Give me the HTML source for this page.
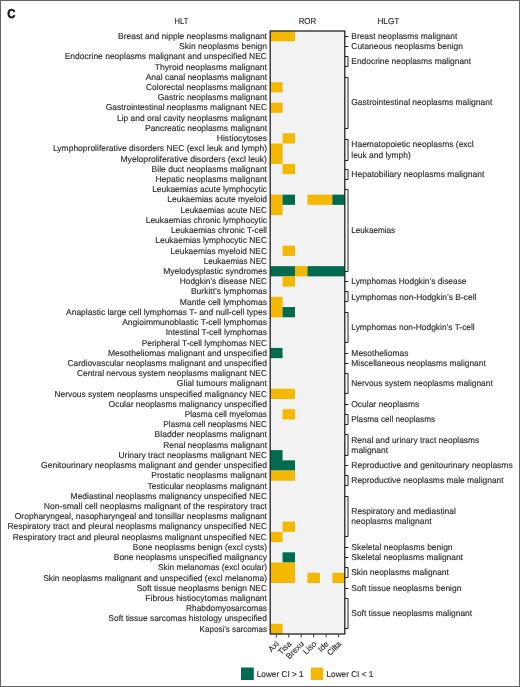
<!DOCTYPE html><html><head><meta charset="utf-8"><style>
html,body{margin:0;padding:0;background:#fff;}
body{width:520px;height:687px;overflow:hidden;position:relative;}
svg{position:absolute;left:0;top:0;will-change:transform;}
text{font-family:"Liberation Sans",sans-serif;text-rendering:geometricPrecision;stroke:#2a2a2a;stroke-width:0.14px;}
</style></head><body>
<svg width="520" height="687" viewBox="0 0 520 687">
<rect x="0" y="0" width="520" height="687" fill="#fff"/>
<rect x="0.5" y="0.5" width="519" height="686" fill="none" stroke="#626262" stroke-width="1"/>
<text transform="translate(7.2,17.6) scale(0.9,1.02)" font-size="12.6" font-weight="bold" style="stroke:#111;stroke-width:0.45px" fill="#111">C</text>
<text x="181.45" y="24.4" font-size="8.5" fill="#2a2a2a" text-anchor="middle" textLength="13.73" lengthAdjust="spacingAndGlyphs">HLT</text>
<text x="307.45" y="24.4" font-size="8.5" fill="#2a2a2a" text-anchor="middle" textLength="17.59" lengthAdjust="spacingAndGlyphs">ROR</text>
<text x="388.4" y="24.4" font-size="8.5" fill="#2a2a2a" text-anchor="middle" textLength="21.87" lengthAdjust="spacingAndGlyphs">HLGT</text>
<rect x="270.1" y="31.1" width="74.70" height="602.98" fill="#f2f2f2"/>
<rect x="270.10" y="31.10" width="24.90" height="10.22" fill="#f5b800"/>
<rect x="270.10" y="82.20" width="12.45" height="10.22" fill="#f5b800"/>
<rect x="270.10" y="102.64" width="12.45" height="10.22" fill="#f5b800"/>
<rect x="282.55" y="133.30" width="12.45" height="10.22" fill="#f5b800"/>
<rect x="270.10" y="143.52" width="12.45" height="11.02" fill="#f5b800"/>
<rect x="270.10" y="153.74" width="12.45" height="10.22" fill="#f5b800"/>
<rect x="282.55" y="163.96" width="12.45" height="10.22" fill="#f5b800"/>
<rect x="270.10" y="194.62" width="12.45" height="11.02" fill="#f5b800"/>
<rect x="282.55" y="194.62" width="12.45" height="10.22" fill="#006b4f"/>
<rect x="307.45" y="194.62" width="24.90" height="10.22" fill="#f5b800"/>
<rect x="332.35" y="194.62" width="12.45" height="10.22" fill="#006b4f"/>
<rect x="270.10" y="204.84" width="12.45" height="10.22" fill="#f5b800"/>
<rect x="282.55" y="245.72" width="12.45" height="10.22" fill="#f5b800"/>
<rect x="270.10" y="266.16" width="24.90" height="10.22" fill="#006b4f"/>
<rect x="295.00" y="266.16" width="12.45" height="10.22" fill="#f5b800"/>
<rect x="307.45" y="266.16" width="37.35" height="10.22" fill="#006b4f"/>
<rect x="282.55" y="276.38" width="12.45" height="10.22" fill="#f5b800"/>
<rect x="270.10" y="296.82" width="12.45" height="11.02" fill="#f5b800"/>
<rect x="270.10" y="307.04" width="12.45" height="10.22" fill="#f5b800"/>
<rect x="282.55" y="307.04" width="12.45" height="10.22" fill="#006b4f"/>
<rect x="270.10" y="347.92" width="12.45" height="10.22" fill="#006b4f"/>
<rect x="270.10" y="388.80" width="24.90" height="10.22" fill="#f5b800"/>
<rect x="282.55" y="409.24" width="12.45" height="10.22" fill="#f5b800"/>
<rect x="270.10" y="450.12" width="12.45" height="11.02" fill="#006b4f"/>
<rect x="270.10" y="460.34" width="24.90" height="10.22" fill="#006b4f"/>
<rect x="270.10" y="470.56" width="24.90" height="10.22" fill="#f5b800"/>
<rect x="282.55" y="521.66" width="12.45" height="10.22" fill="#f5b800"/>
<rect x="270.10" y="531.88" width="12.45" height="10.22" fill="#f5b800"/>
<rect x="282.55" y="552.32" width="12.45" height="10.22" fill="#006b4f"/>
<rect x="270.10" y="562.54" width="24.90" height="11.02" fill="#f5b800"/>
<rect x="270.10" y="572.76" width="24.90" height="10.22" fill="#f5b800"/>
<rect x="307.45" y="572.76" width="12.45" height="10.22" fill="#f5b800"/>
<rect x="332.35" y="572.76" width="12.45" height="10.22" fill="#f5b800"/>
<rect x="270.10" y="623.86" width="12.45" height="10.22" fill="#f5b800"/>
<rect x="270.2" y="31.0" width="74.6" height="603.0" fill="none" stroke="#222" stroke-width="1.3"/>
<line x1="276.33" y1="634.5" x2="276.33" y2="637.5" stroke="#333" stroke-width="1"/>
<line x1="288.78" y1="634.5" x2="288.78" y2="637.5" stroke="#333" stroke-width="1"/>
<line x1="301.23" y1="634.5" x2="301.23" y2="637.5" stroke="#333" stroke-width="1"/>
<line x1="313.68" y1="634.5" x2="313.68" y2="637.5" stroke="#333" stroke-width="1"/>
<line x1="326.12" y1="634.5" x2="326.12" y2="637.5" stroke="#333" stroke-width="1"/>
<line x1="338.58" y1="634.5" x2="338.58" y2="637.5" stroke="#333" stroke-width="1"/>
<text transform="translate(279.53,644.40) rotate(-45)" font-size="8.2" fill="#2a2a2a" text-anchor="end">Axi</text>
<text transform="translate(291.98,644.40) rotate(-45)" font-size="8.2" fill="#2a2a2a" text-anchor="end">Tisa</text>
<text transform="translate(304.43,644.40) rotate(-45)" font-size="8.2" fill="#2a2a2a" text-anchor="end">Brexu</text>
<text transform="translate(316.88,644.40) rotate(-45)" font-size="8.2" fill="#2a2a2a" text-anchor="end">Liso</text>
<text transform="translate(329.32,644.40) rotate(-45)" font-size="8.2" fill="#2a2a2a" text-anchor="end">Ide</text>
<text transform="translate(341.78,644.40) rotate(-45)" font-size="8.2" fill="#2a2a2a" text-anchor="end">Cilta</text>
<text x="267.0" y="38.91" font-size="8.5" fill="#2a2a2a" text-anchor="end" textLength="148.94" lengthAdjust="spacingAndGlyphs">Breast and nipple neoplasms malignant</text>
<text x="267.0" y="49.13" font-size="8.5" fill="#2a2a2a" text-anchor="end" textLength="87.89" lengthAdjust="spacingAndGlyphs">Skin neoplasms benign</text>
<text x="267.0" y="59.35" font-size="8.5" fill="#2a2a2a" text-anchor="end" textLength="202.28" lengthAdjust="spacingAndGlyphs">Endocrine neoplasms malignant and unspecified NEC</text>
<text x="267.0" y="69.57" font-size="8.5" fill="#2a2a2a" text-anchor="end" textLength="112.23" lengthAdjust="spacingAndGlyphs">Thyroid neoplasms malignant</text>
<text x="267.0" y="79.79" font-size="8.5" fill="#2a2a2a" text-anchor="end" textLength="121.28" lengthAdjust="spacingAndGlyphs">Anal canal neoplasms malignant</text>
<text x="267.0" y="90.01" font-size="8.5" fill="#2a2a2a" text-anchor="end" textLength="121.05" lengthAdjust="spacingAndGlyphs">Colorectal neoplasms malignant</text>
<text x="267.0" y="100.23" font-size="8.5" fill="#2a2a2a" text-anchor="end" textLength="109.30" lengthAdjust="spacingAndGlyphs">Gastric neoplasms malignant</text>
<text x="267.0" y="110.45" font-size="8.5" fill="#2a2a2a" text-anchor="end" textLength="161.25" lengthAdjust="spacingAndGlyphs">Gastrointestinal neoplasms malignant NEC</text>
<text x="267.0" y="120.67" font-size="8.5" fill="#2a2a2a" text-anchor="end" textLength="150.00" lengthAdjust="spacingAndGlyphs">Lip and oral cavity neoplasms malignant</text>
<text x="267.0" y="130.89" font-size="8.5" fill="#2a2a2a" text-anchor="end" textLength="121.94" lengthAdjust="spacingAndGlyphs">Pancreatic neoplasms malignant</text>
<text x="267.0" y="141.11" font-size="8.5" fill="#2a2a2a" text-anchor="end" textLength="50.17" lengthAdjust="spacingAndGlyphs">Histiocytoses</text>
<text x="267.0" y="151.33" font-size="8.5" fill="#2a2a2a" text-anchor="end" textLength="214.06" lengthAdjust="spacingAndGlyphs">Lymphoproliferative disorders NEC (excl leuk and lymph)</text>
<text x="267.0" y="161.55" font-size="8.5" fill="#2a2a2a" text-anchor="end" textLength="146.52" lengthAdjust="spacingAndGlyphs">Myeloproliferative disorders (excl leuk)</text>
<text x="267.0" y="171.77" font-size="8.5" fill="#2a2a2a" text-anchor="end" textLength="115.39" lengthAdjust="spacingAndGlyphs">Bile duct neoplasms malignant</text>
<text x="267.0" y="181.99" font-size="8.5" fill="#2a2a2a" text-anchor="end" textLength="111.60" lengthAdjust="spacingAndGlyphs">Hepatic neoplasms malignant</text>
<text x="267.0" y="192.21" font-size="8.5" fill="#2a2a2a" text-anchor="end" textLength="114.85" lengthAdjust="spacingAndGlyphs">Leukaemias acute lymphocytic</text>
<text x="267.0" y="202.43" font-size="8.5" fill="#2a2a2a" text-anchor="end" textLength="99.64" lengthAdjust="spacingAndGlyphs">Leukaemias acute myeloid</text>
<text x="267.0" y="212.65" font-size="8.5" fill="#2a2a2a" text-anchor="end" textLength="86.50" lengthAdjust="spacingAndGlyphs">Leukaemias acute NEC</text>
<text x="267.0" y="222.87" font-size="8.5" fill="#2a2a2a" text-anchor="end" textLength="121.26" lengthAdjust="spacingAndGlyphs">Leukaemias chronic lymphocytic</text>
<text x="267.0" y="233.09" font-size="8.5" fill="#2a2a2a" text-anchor="end" textLength="96.11" lengthAdjust="spacingAndGlyphs">Leukaemias chronic T-cell</text>
<text x="267.0" y="243.31" font-size="8.5" fill="#2a2a2a" text-anchor="end" textLength="111.70" lengthAdjust="spacingAndGlyphs">Leukaemias lymphocytic NEC</text>
<text x="267.0" y="253.53" font-size="8.5" fill="#2a2a2a" text-anchor="end" textLength="96.59" lengthAdjust="spacingAndGlyphs">Leukaemias myeloid NEC</text>
<text x="267.0" y="263.75" font-size="8.5" fill="#2a2a2a" text-anchor="end" textLength="63.24" lengthAdjust="spacingAndGlyphs">Leukaemias NEC</text>
<text x="267.0" y="273.97" font-size="8.5" fill="#2a2a2a" text-anchor="end" textLength="103.83" lengthAdjust="spacingAndGlyphs">Myelodysplastic syndromes</text>
<text x="267.0" y="284.19" font-size="8.5" fill="#2a2a2a" text-anchor="end" textLength="87.14" lengthAdjust="spacingAndGlyphs">Hodgkin’s disease NEC</text>
<text x="267.0" y="294.41" font-size="8.5" fill="#2a2a2a" text-anchor="end" textLength="76.09" lengthAdjust="spacingAndGlyphs">Burkitt’s lymphomas</text>
<text x="267.0" y="304.63" font-size="8.5" fill="#2a2a2a" text-anchor="end" textLength="87.25" lengthAdjust="spacingAndGlyphs">Mantle cell lymphomas</text>
<text x="267.0" y="314.85" font-size="8.5" fill="#2a2a2a" text-anchor="end" textLength="200.98" lengthAdjust="spacingAndGlyphs">Anaplastic large cell lymphomas T- and null-cell types</text>
<text x="267.0" y="325.07" font-size="8.5" fill="#2a2a2a" text-anchor="end" textLength="144.80" lengthAdjust="spacingAndGlyphs">Angioimmunoblastic T-cell lymphomas</text>
<text x="267.0" y="335.29" font-size="8.5" fill="#2a2a2a" text-anchor="end" textLength="101.26" lengthAdjust="spacingAndGlyphs">Intestinal T-cell lymphomas</text>
<text x="267.0" y="345.51" font-size="8.5" fill="#2a2a2a" text-anchor="end" textLength="125.29" lengthAdjust="spacingAndGlyphs">Peripheral T-cell lymphomas NEC</text>
<text x="267.0" y="355.73" font-size="8.5" fill="#2a2a2a" text-anchor="end" textLength="159.09" lengthAdjust="spacingAndGlyphs">Mesotheliomas malignant and unspecified</text>
<text x="267.0" y="365.95" font-size="8.5" fill="#2a2a2a" text-anchor="end" textLength="199.48" lengthAdjust="spacingAndGlyphs">Cardiovascular neoplasms malignant and unspecified</text>
<text x="267.0" y="376.17" font-size="8.5" fill="#2a2a2a" text-anchor="end" textLength="190.08" lengthAdjust="spacingAndGlyphs">Central nervous system neoplasms malignant NEC</text>
<text x="267.0" y="386.39" font-size="8.5" fill="#2a2a2a" text-anchor="end" textLength="90.19" lengthAdjust="spacingAndGlyphs">Glial tumours malignant</text>
<text x="267.0" y="396.61" font-size="8.5" fill="#2a2a2a" text-anchor="end" textLength="212.53" lengthAdjust="spacingAndGlyphs">Nervous system neoplasms unspecified malignancy NEC</text>
<text x="267.0" y="406.83" font-size="8.5" fill="#2a2a2a" text-anchor="end" textLength="158.42" lengthAdjust="spacingAndGlyphs">Ocular neoplasms malignancy unspecified</text>
<text x="267.0" y="417.05" font-size="8.5" fill="#2a2a2a" text-anchor="end" textLength="82.35" lengthAdjust="spacingAndGlyphs">Plasma cell myelomas</text>
<text x="267.0" y="427.27" font-size="8.5" fill="#2a2a2a" text-anchor="end" textLength="103.63" lengthAdjust="spacingAndGlyphs">Plasma cell neoplasms NEC</text>
<text x="267.0" y="437.49" font-size="8.5" fill="#2a2a2a" text-anchor="end" textLength="112.38" lengthAdjust="spacingAndGlyphs">Bladder neoplasms malignant</text>
<text x="267.0" y="447.71" font-size="8.5" fill="#2a2a2a" text-anchor="end" textLength="103.69" lengthAdjust="spacingAndGlyphs">Renal neoplasms malignant</text>
<text x="267.0" y="457.93" font-size="8.5" fill="#2a2a2a" text-anchor="end" textLength="148.48" lengthAdjust="spacingAndGlyphs">Urinary tract neoplasms malignant NEC</text>
<text x="267.0" y="468.15" font-size="8.5" fill="#2a2a2a" text-anchor="end" textLength="225.95" lengthAdjust="spacingAndGlyphs">Genitourinary neoplasms malignant and gender unspecified</text>
<text x="267.0" y="478.37" font-size="8.5" fill="#2a2a2a" text-anchor="end" textLength="115.65" lengthAdjust="spacingAndGlyphs">Prostatic neoplasms malignant</text>
<text x="267.0" y="488.59" font-size="8.5" fill="#2a2a2a" text-anchor="end" textLength="119.49" lengthAdjust="spacingAndGlyphs">Testicular neoplasms malignant</text>
<text x="267.0" y="498.81" font-size="8.5" fill="#2a2a2a" text-anchor="end" textLength="196.39" lengthAdjust="spacingAndGlyphs">Mediastinal neoplasms malignancy unspecified NEC</text>
<text x="267.0" y="509.03" font-size="8.5" fill="#2a2a2a" text-anchor="end" textLength="223.19" lengthAdjust="spacingAndGlyphs">Non-small cell neoplasms malignant of the respiratory tract</text>
<text x="267.0" y="519.25" font-size="8.5" fill="#2a2a2a" text-anchor="end" textLength="252.22" lengthAdjust="spacingAndGlyphs">Oropharyngeal, nasopharyngeal and tonsillar neoplasms malignant</text>
<text x="267.0" y="529.47" font-size="8.5" fill="#2a2a2a" text-anchor="end" textLength="259.57" lengthAdjust="spacingAndGlyphs">Respiratory tract and pleural neoplasms malignancy unspecified NEC</text>
<text x="267.0" y="539.69" font-size="8.5" fill="#2a2a2a" text-anchor="end" textLength="254.33" lengthAdjust="spacingAndGlyphs">Respiratory tract and pleural neoplasms malignant unspecified NEC</text>
<text x="267.0" y="549.91" font-size="8.5" fill="#2a2a2a" text-anchor="end" textLength="134.17" lengthAdjust="spacingAndGlyphs">Bone neoplasms benign (excl cysts)</text>
<text x="267.0" y="560.13" font-size="8.5" fill="#2a2a2a" text-anchor="end" textLength="153.24" lengthAdjust="spacingAndGlyphs">Bone neoplasms unspecified malignancy</text>
<text x="267.0" y="570.35" font-size="8.5" fill="#2a2a2a" text-anchor="end" textLength="108.98" lengthAdjust="spacingAndGlyphs">Skin melanomas (excl ocular)</text>
<text x="267.0" y="580.57" font-size="8.5" fill="#2a2a2a" text-anchor="end" textLength="223.81" lengthAdjust="spacingAndGlyphs">Skin neoplasms malignant and unspecified (excl melanoma)</text>
<text x="267.0" y="590.79" font-size="8.5" fill="#2a2a2a" text-anchor="end" textLength="130.35" lengthAdjust="spacingAndGlyphs">Soft tissue neoplasms benign NEC</text>
<text x="267.0" y="601.01" font-size="8.5" fill="#2a2a2a" text-anchor="end" textLength="121.61" lengthAdjust="spacingAndGlyphs">Fibrous histiocytomas malignant</text>
<text x="267.0" y="611.23" font-size="8.5" fill="#2a2a2a" text-anchor="end" textLength="80.98" lengthAdjust="spacingAndGlyphs">Rhabdomyosarcomas</text>
<text x="267.0" y="621.45" font-size="8.5" fill="#2a2a2a" text-anchor="end" textLength="158.66" lengthAdjust="spacingAndGlyphs">Soft tissue sarcomas histology unspecified</text>
<text x="267.0" y="631.67" font-size="8.5" fill="#2a2a2a" text-anchor="end" textLength="67.38" lengthAdjust="spacingAndGlyphs">Kaposi’s sarcomas</text>
<line x1="344.8" y1="36.50" x2="348.4" y2="36.50" stroke="#222" stroke-width="1"/>
<text x="351.3" y="38.91" font-size="8.5" fill="#2a2a2a" textLength="105.95" lengthAdjust="spacingAndGlyphs">Breast neoplasms malignant</text>
<line x1="344.8" y1="46.50" x2="348.4" y2="46.50" stroke="#222" stroke-width="1"/>
<text x="351.3" y="49.13" font-size="8.5" fill="#2a2a2a" textLength="111.57" lengthAdjust="spacingAndGlyphs">Cutaneous neoplasms benign</text>
<polyline points="344.8,56.50 348.00,56.50 348.00,66.50 344.8,66.50" fill="none" stroke="#222" stroke-width="1"/>
<text x="351.3" y="64.46" font-size="8.5" fill="#2a2a2a" textLength="119.86" lengthAdjust="spacingAndGlyphs">Endocrine neoplasms malignant</text>
<polyline points="344.8,77.50 348.00,77.50 348.00,128.50 344.8,128.50" fill="none" stroke="#222" stroke-width="1"/>
<text x="351.3" y="105.34" font-size="8.5" fill="#2a2a2a" textLength="140.94" lengthAdjust="spacingAndGlyphs">Gastrointestinal neoplasms malignant</text>
<polyline points="344.8,139.50 348.00,139.50 348.00,160.50 344.8,160.50" fill="none" stroke="#222" stroke-width="1"/>
<text x="351.3" y="147.33" font-size="8.5" fill="#2a2a2a" textLength="122.44" lengthAdjust="spacingAndGlyphs">Haematopoietic neoplasms (excl</text>
<text x="351.3" y="157.53" font-size="8.5" fill="#2a2a2a" textLength="59.40" lengthAdjust="spacingAndGlyphs">leuk and lymph)</text>
<polyline points="344.8,169.50 348.00,169.50 348.00,179.50 344.8,179.50" fill="none" stroke="#222" stroke-width="1"/>
<text x="351.3" y="176.88" font-size="8.5" fill="#2a2a2a" textLength="133.09" lengthAdjust="spacingAndGlyphs">Hepatobiliary neoplasms malignant</text>
<polyline points="344.8,189.50 348.00,189.50 348.00,271.50 344.8,271.50" fill="none" stroke="#222" stroke-width="1"/>
<text x="351.3" y="233.09" font-size="8.5" fill="#2a2a2a" textLength="43.73" lengthAdjust="spacingAndGlyphs">Leukaemias</text>
<line x1="344.8" y1="281.50" x2="348.4" y2="281.50" stroke="#222" stroke-width="1"/>
<text x="351.3" y="284.19" font-size="8.5" fill="#2a2a2a" textLength="115.17" lengthAdjust="spacingAndGlyphs">Lymphomas Hodgkin’s disease</text>
<polyline points="344.8,291.50 348.00,291.50 348.00,301.50 344.8,301.50" fill="none" stroke="#222" stroke-width="1"/>
<text x="351.3" y="299.52" font-size="8.5" fill="#2a2a2a" textLength="125.14" lengthAdjust="spacingAndGlyphs">Lymphomas non-Hodgkin’s B-cell</text>
<polyline points="344.8,312.50 348.00,312.50 348.00,342.50 344.8,342.50" fill="none" stroke="#222" stroke-width="1"/>
<text x="351.3" y="330.18" font-size="8.5" fill="#2a2a2a" textLength="123.44" lengthAdjust="spacingAndGlyphs">Lymphomas non-Hodgkin’s T-cell</text>
<line x1="344.8" y1="353.50" x2="348.4" y2="353.50" stroke="#222" stroke-width="1"/>
<text x="351.3" y="355.73" font-size="8.5" fill="#2a2a2a" textLength="57.16" lengthAdjust="spacingAndGlyphs">Mesotheliomas</text>
<line x1="344.8" y1="363.50" x2="348.4" y2="363.50" stroke="#222" stroke-width="1"/>
<text x="351.3" y="365.95" font-size="8.5" fill="#2a2a2a" textLength="134.44" lengthAdjust="spacingAndGlyphs">Miscellaneous neoplasms malignant</text>
<polyline points="344.8,373.50 348.00,373.50 348.00,393.50 344.8,393.50" fill="none" stroke="#222" stroke-width="1"/>
<text x="351.3" y="386.39" font-size="8.5" fill="#2a2a2a" textLength="141.42" lengthAdjust="spacingAndGlyphs">Nervous system neoplasms malignant</text>
<line x1="344.8" y1="404.50" x2="348.4" y2="404.50" stroke="#222" stroke-width="1"/>
<text x="351.3" y="406.83" font-size="8.5" fill="#2a2a2a" textLength="68.00" lengthAdjust="spacingAndGlyphs">Ocular neoplasms</text>
<polyline points="344.8,414.50 348.00,414.50 348.00,424.50 344.8,424.50" fill="none" stroke="#222" stroke-width="1"/>
<text x="351.3" y="422.16" font-size="8.5" fill="#2a2a2a" textLength="83.83" lengthAdjust="spacingAndGlyphs">Plasma cell neoplasms</text>
<polyline points="344.8,434.50 348.00,434.50 348.00,455.50 344.8,455.50" fill="none" stroke="#222" stroke-width="1"/>
<text x="351.3" y="442.61" font-size="8.5" fill="#2a2a2a" textLength="127.96" lengthAdjust="spacingAndGlyphs">Renal and urinary tract neoplasms</text>
<text x="351.3" y="452.81" font-size="8.5" fill="#2a2a2a" textLength="36.86" lengthAdjust="spacingAndGlyphs">malignant</text>
<line x1="344.8" y1="465.50" x2="348.4" y2="465.50" stroke="#222" stroke-width="1"/>
<text x="351.3" y="468.15" font-size="8.5" fill="#2a2a2a" textLength="161.40" lengthAdjust="spacingAndGlyphs">Reproductive and genitourinary neoplasms</text>
<polyline points="344.8,475.50 348.00,475.50 348.00,485.50 344.8,485.50" fill="none" stroke="#222" stroke-width="1"/>
<text x="351.3" y="483.48" font-size="8.5" fill="#2a2a2a" textLength="152.35" lengthAdjust="spacingAndGlyphs">Reproductive neoplasms male malignant</text>
<polyline points="344.8,496.50 348.00,496.50 348.00,536.50 344.8,536.50" fill="none" stroke="#222" stroke-width="1"/>
<text x="351.3" y="514.15" font-size="8.5" fill="#2a2a2a" textLength="104.56" lengthAdjust="spacingAndGlyphs">Respiratory and mediastinal</text>
<text x="351.3" y="524.35" font-size="8.5" fill="#2a2a2a" textLength="80.32" lengthAdjust="spacingAndGlyphs">neoplasms malignant</text>
<line x1="344.8" y1="547.50" x2="348.4" y2="547.50" stroke="#222" stroke-width="1"/>
<text x="351.3" y="549.91" font-size="8.5" fill="#2a2a2a" textLength="101.29" lengthAdjust="spacingAndGlyphs">Skeletal neoplasms benign</text>
<line x1="344.8" y1="557.50" x2="348.4" y2="557.50" stroke="#222" stroke-width="1"/>
<text x="351.3" y="560.13" font-size="8.5" fill="#2a2a2a" textLength="111.62" lengthAdjust="spacingAndGlyphs">Skeletal neoplasms malignant</text>
<polyline points="344.8,567.50 348.00,567.50 348.00,577.50 344.8,577.50" fill="none" stroke="#222" stroke-width="1"/>
<text x="351.3" y="575.46" font-size="8.5" fill="#2a2a2a" textLength="97.52" lengthAdjust="spacingAndGlyphs">Skin neoplasms malignant</text>
<line x1="344.8" y1="588.50" x2="348.4" y2="588.50" stroke="#222" stroke-width="1"/>
<text x="351.3" y="590.79" font-size="8.5" fill="#2a2a2a" textLength="110.04" lengthAdjust="spacingAndGlyphs">Soft tissue neoplasms benign</text>
<polyline points="344.8,598.50 348.00,598.50 348.00,628.50 344.8,628.50" fill="none" stroke="#222" stroke-width="1"/>
<text x="351.3" y="616.34" font-size="8.5" fill="#2a2a2a" textLength="120.77" lengthAdjust="spacingAndGlyphs">Soft tissue neoplasms malignant</text>
<rect x="241" y="667.5" width="12.8" height="12.5" fill="#006b4f"/>
<text x="256.8" y="676.6" font-size="8.5" fill="#2a2a2a" textLength="46.83" lengthAdjust="spacingAndGlyphs">Lower CI &gt; 1</text>
<rect x="310.8" y="667.5" width="12.4" height="12.5" fill="#f5b800"/>
<text x="326.5" y="676.6" font-size="8.5" fill="#2a2a2a" textLength="46.83" lengthAdjust="spacingAndGlyphs">Lower CI &lt; 1</text>
</svg></body></html>
